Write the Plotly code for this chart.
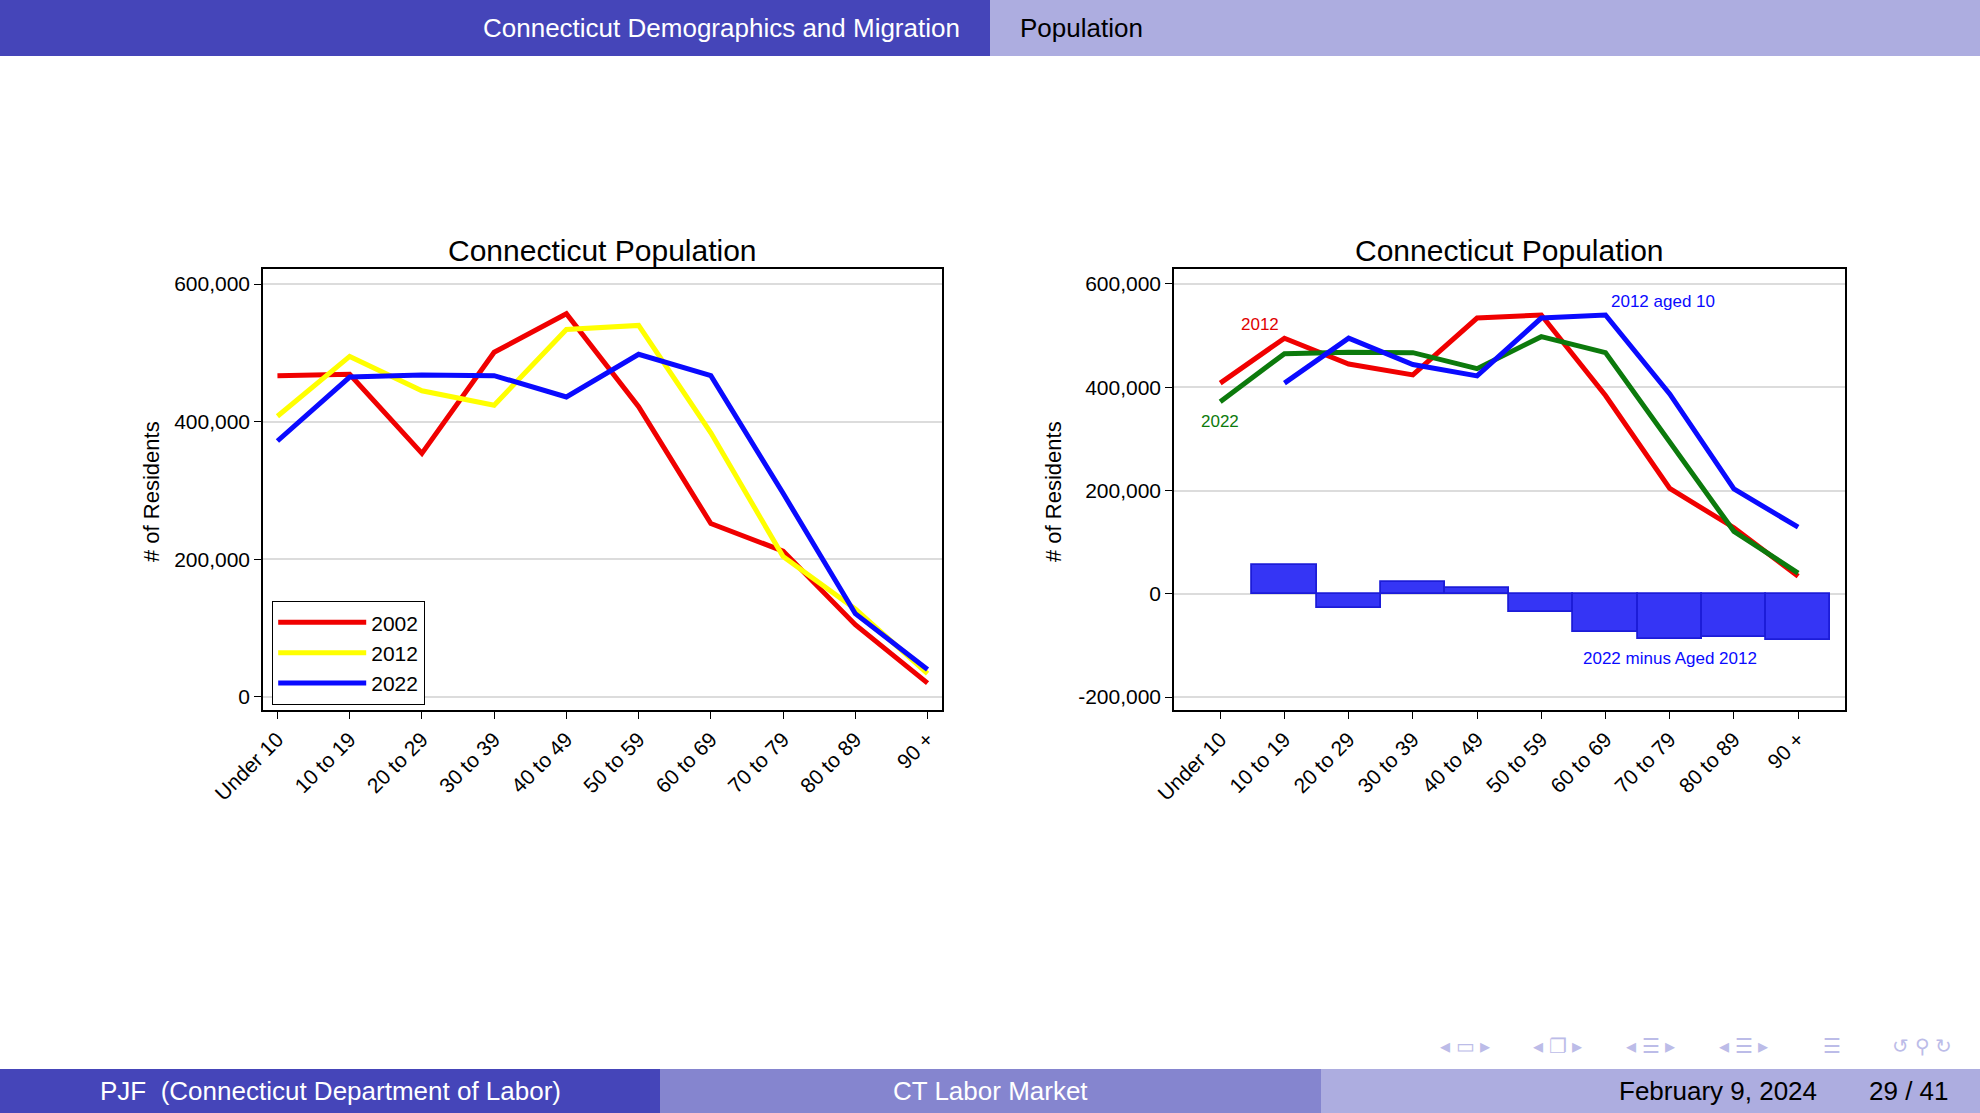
import plotly.graph_objects as go
from plotly.subplots import make_subplots

# age groups
ages = ["Under 10", "10 to 19", "20 to 29", "30 to 39", "40 to 49",
        "50 to 59", "60 to 69", "70 to 79", "80 to 89", "90 +"]

# residents by age group
pop_2002 = [467000, 469000, 354000, 501000, 557000, 422000, 252000, 212000, 105000, 20000]
pop_2012 = [408000, 495000, 445000, 424000, 534000, 540000, 384000, 204000, 128000, 34000]
pop_2022 = [372000, 465000, 468000, 467000, 436000, 498000, 467000, 296000, 121000, 40000]

# 2012 cohort shifted up ten years (no value for Under 10)
aged_2012 = [None, 408000, 495000, 444000, 422000, 534000, 540000, 387000, 203000, 129000]
diff_2022_aged = [None, 56000, -27000, 22000, 12000, -36000, -73000, -88000, -83000, -89000]

y_ticks = [-200000, 0, 200000, 400000, 600000]
y_ticktext = ["-200,000", "0", "200,000", "400,000", "600,000"]

W, H = 1980, 1113
FONT = "Liberation Sans, Arial, sans-serif"
DARK = "#4545b9"
MID = "#8585cf"
LIGHT = "#adade0"
NAV = "#bcbce8"

RED = "#f00000"
YELLOW = "#ffff00"
BLUE = "#0a0aff"
GREEN = "#0c7a0c"
LW = 5

fig = make_subplots(rows=1, cols=2)

# left panel
fig.add_trace(go.Scatter(x=ages, y=pop_2002, name="2002", mode="lines",
                         line=dict(color=RED, width=LW)), row=1, col=1)
fig.add_trace(go.Scatter(x=ages, y=pop_2012, name="2012", mode="lines",
                         line=dict(color=YELLOW, width=LW)), row=1, col=1)
fig.add_trace(go.Scatter(x=ages, y=pop_2022, name="2022", mode="lines",
                         line=dict(color=BLUE, width=LW)), row=1, col=1)

# right panel
fig.add_trace(go.Bar(x=ages, y=diff_2022_aged, showlegend=False, width=1,
                     marker=dict(color="#3535f5", line=dict(color="#1c1cd8", width=1.8))),
              row=1, col=2)
fig.add_trace(go.Scatter(x=ages, y=pop_2012, showlegend=False, mode="lines",
                         line=dict(color=RED, width=LW)), row=1, col=2)
fig.add_trace(go.Scatter(x=ages, y=pop_2022, showlegend=False, mode="lines",
                         line=dict(color=GREEN, width=LW)), row=1, col=2)
fig.add_trace(go.Scatter(x=ages, y=aged_2012, showlegend=False, mode="lines",
                         line=dict(color=BLUE, width=LW)), row=1, col=2)

axis_common = dict(showline=True, linecolor="black", linewidth=1.5, mirror=True,
                   ticks="outside", ticklen=7, tickcolor="black", tickwidth=1.2,
                   automargin=False,
                   tickfont=dict(family=FONT, size=21, color="black"))

fig.update_xaxes(**axis_common, tickangle=-45, showgrid=False, type="category")
fig.update_yaxes(**axis_common, showgrid=True, gridcolor="#dcdcdc", gridwidth=1.5,
                 zeroline=False, tickvals=y_ticks, ticktext=y_ticktext)

fig.update_xaxes(domain=[263 / W, 942 / W], range=[-0.2, 9.2], row=1, col=1)
fig.update_xaxes(domain=[1174 / W, 1845 / W], range=[-0.72, 9.73], row=1, col=2)
fig.update_yaxes(domain=[1 - 710 / H, 1 - 269 / H], range=[-19000, 622000], row=1, col=1)
fig.update_yaxes(domain=[1 - 710 / H, 1 - 269 / H], range=[-225000, 629000], row=1, col=2)

shapes = [
    dict(type="rect", xref="paper", yref="paper", x0=0, x1=990 / W, y0=1 - 56 / H, y1=1,
         fillcolor=DARK, line=dict(width=0), layer="below"),
    dict(type="rect", xref="paper", yref="paper", x0=990 / W, x1=1, y0=1 - 56 / H, y1=1,
         fillcolor=LIGHT, line=dict(width=0), layer="below"),
    dict(type="rect", xref="paper", yref="paper", x0=0, x1=660 / W, y0=0, y1=44 / H,
         fillcolor=DARK, line=dict(width=0), layer="below"),
    dict(type="rect", xref="paper", yref="paper", x0=660 / W, x1=1321 / W, y0=0, y1=44 / H,
         fillcolor=MID, line=dict(width=0), layer="below"),
    dict(type="rect", xref="paper", yref="paper", x0=1321 / W, x1=1, y0=0, y1=44 / H,
         fillcolor=LIGHT, line=dict(width=0), layer="below"),
]

def paper_text(text, x, y, size=26, color="black", xanchor="center", angle=0):
    return dict(text=text, xref="paper", yref="paper", x=x / W, y=1 - y / H,
                xanchor=xanchor, yanchor="middle", showarrow=False, textangle=angle,
                font=dict(family=FONT, size=size, color=color))

annotations = [
    paper_text("Connecticut Demographics and Migration", 962, 28, color="white", xanchor="right"),
    paper_text("Population", 1018, 28, xanchor="left"),
    paper_text("PJF  (Connecticut Department of Labor)", 330, 1091, color="white"),
    paper_text("CT Labor Market", 990, 1091, color="white"),
    paper_text("February 9, 2024", 1819, 1091, xanchor="right"),
    paper_text("29 / 41", 1951, 1091, xanchor="right"),
    # beamer navigation symbols
    paper_text("◂ ▭ ▸", 1465, 1046, size=20, color=NAV),
    paper_text("◂ ❐ ▸", 1557, 1046, size=20, color=NAV),
    paper_text("◂ ☰ ▸", 1650, 1046, size=20, color=NAV),
    paper_text("◂ ☰ ▸", 1743, 1046, size=20, color=NAV),
    paper_text("☰", 1832, 1046, size=20, color=NAV),
    paper_text("↺ ⚲ ↻", 1922, 1046, size=20, color=NAV),
    paper_text("Connecticut Population", 602, 250, size=30),
    paper_text("Connecticut Population", 1509, 250, size=30),
    paper_text("# of Residents", 152, 492, size=22, angle=-90),
    paper_text("# of Residents", 1054, 492, size=22, angle=-90),
    dict(text="2012", xref="x2", yref="y2", x=0.62, y=522000, showarrow=False,
         font=dict(family=FONT, size=17, color="#e00000")),
    dict(text="2022", xref="x2", yref="y2", x=0.0, y=334000, showarrow=False,
         font=dict(family=FONT, size=17, color=GREEN)),
    dict(text="2012 aged 10", xref="x2", yref="y2", x=6.9, y=567000, showarrow=False,
         font=dict(family=FONT, size=17, color=BLUE)),
    dict(text="2022 minus Aged 2012", xref="x2", yref="y2", x=7.0, y=-125000, showarrow=False,
         font=dict(family=FONT, size=17, color=BLUE)),
]

fig.update_layout(
    width=W, height=H,
    margin=dict(l=0, r=0, t=0, b=0, autoexpand=False),
    paper_bgcolor="white", plot_bgcolor="white",
    shapes=shapes, annotations=annotations,
    bargap=0,
    legend=dict(x=272 / W, y=1 - 601 / H, xanchor="left", yanchor="top",
                bordercolor="black", borderwidth=1.2, bgcolor="white",
                font=dict(family=FONT, size=21, color="black"),
                itemwidth=88, tracegroupgap=0),
)

fig.write_html("out.html", config={"displayModeBar": False},
               post_script="document.body.style.margin='0';document.body.style.overflow='hidden';")
